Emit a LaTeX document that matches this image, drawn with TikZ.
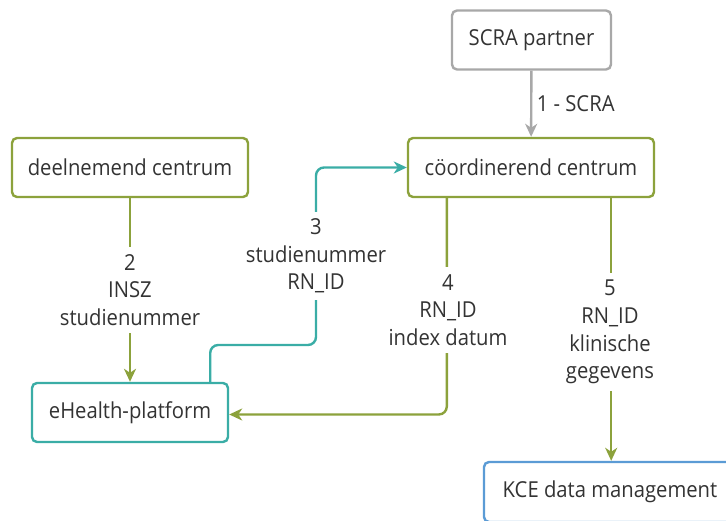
\documentclass[tikz,border=0pt]{standalone}
\usepackage{fontspec}
\setmainfont{Open Sans}[FakeStretch=0.92]
\usetikzlibrary{arrows.meta}
\definecolor{olivec}{HTML}{8CA23C}
\definecolor{tealc}{HTML}{3AADA6}
\definecolor{grayc}{HTML}{A8A8A8}
\definecolor{bluec}{HTML}{5B9BD5}
\definecolor{txt}{HTML}{333333}
\begin{document}
\begin{tikzpicture}[x=1pt,y=-1pt,
  font=\fontsize{22}{27.7}\selectfont,
  box/.style={draw, line width=2.4pt, rounded corners=5pt, fill=white, text=txt, minimum height=59pt, inner sep=0pt},
  conn/.style={line width=2.4pt, -{Stealth[length=13pt,width=12pt,inset=4pt]}},
  lab/.style={fill=white, text=txt, align=center, inner xsep=2pt, inner ysep=7pt}]
\useasboundingbox (0,0) rectangle (726,521);
\node[box, draw=grayc, minimum width=159pt] (sp) at (531.5,40) {SCRA partner};
\node[box, draw=olivec, minimum width=246pt] (co) at (531,167.5) {cöordinerend centrum};
\node[box, draw=olivec, minimum width=236pt] (dc) at (130,167.5) {deelnemend centrum};
\node[box, draw=tealc, minimum width=196pt] (eh) at (130,412.5) {eHealth-platform};
\node[box, draw=bluec, minimum width=252pt, minimum height=60pt] (kce) at (610,492) {KCE data management};
% 1
\draw[conn, grayc] (sp) -- node[right, text=txt, xshift=1pt] {1 - SCRA} (co);
% 2
\draw[conn, olivec] (dc) -- node[lab] {2\\INSZ\\studienummer} (eh);
% 3
\coordinate (c3a) at (316,345);
\coordinate (c3b) at (316,167.5);
\draw[conn, tealc, rounded corners=8pt] ([xshift=-19pt]eh.north east) |- (c3a) -- (c3b) -- (co.west);
\node[lab] (l3) at (316,256) {3\\studienummer\\RN\_ID};
% 4
\draw[conn, olivec, rounded corners=8pt] ([xshift=40pt]co.south west) |- ([yshift=-2pt]eh.east);
\node[lab] (l4) at (448,310) {4\\RN\_ID\\index datum};
% 5
\draw[conn, olivec] ([xshift=-44pt]co.south east) -- ([xshift=-44pt]co.south east |- kce.north);
\node[lab] (l5) at (610,332) {5\\RN\_ID\\klinische\\gegevens};
\end{tikzpicture}
\end{document}
